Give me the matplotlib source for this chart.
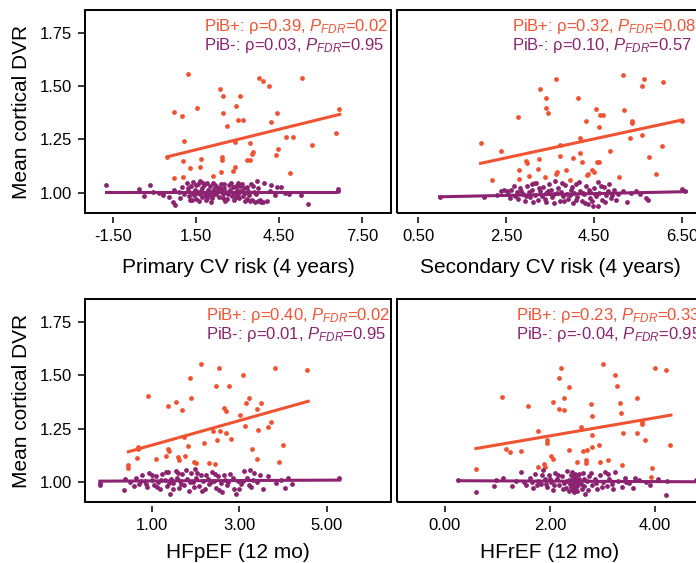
import numpy as np
import matplotlib
matplotlib.use("Agg")
import matplotlib.pyplot as plt
from matplotlib.patches import Rectangle

plt.rcParams["font.family"] = ["Liberation Sans", "DejaVu Sans"]
plt.rcParams["mathtext.fontset"] = "custom"
plt.rcParams["mathtext.rm"] = "Liberation Sans"
plt.rcParams["mathtext.it"] = "Liberation Sans:italic"

ORANGE = "#EF5332"
PURPLE = "#8C2371"

# ---- data: (risk score, mean cortical DVR) ----
# Panel A: primary CV risk
primary_pos = [(1.21, 1.557), (0.69, 1.378), (0.99, 1.358), (1.54, 1.400), (1.07, 1.243),
               (0.46, 1.166), (1.01, 1.147), (1.67, 1.157), (1.27, 1.115), (1.63, 1.122),
               (0.69, 1.069), (1.03, 1.075), (2.11, 1.080), (2.36, 1.488), (2.48, 1.452),
               (2.45, 1.373), (2.60, 1.314), (2.42, 1.166), (2.42, 1.154), (2.38, 1.099),
               (2.90, 1.119), (2.84, 1.102), (2.93, 1.405), (3.08, 1.452), (3.02, 1.342),
               (3.20, 1.342), (2.90, 1.240), (3.46, 1.232), (3.56, 1.193), (3.50, 1.180),
               (3.32, 1.154), (3.44, 1.154), (3.78, 1.538), (3.90, 1.523), (4.14, 1.502),
               (4.43, 1.373), (4.22, 1.330), (4.46, 1.204), (4.40, 1.176), (4.74, 1.260),
               (4.98, 1.260), (4.89, 1.094), (5.34, 1.538), (5.69, 1.224), (6.55, 1.279),
               (6.66, 1.392)]
primary_neg = [(-1.77, 1.036), (-0.57, 1.016), (-0.37, 0.984), (-0.18, 1.036), (-0.05, 1.003),
               (0.15, 0.997), (0.30, 0.990), (0.50, 0.982), (0.65, 0.958), (0.75, 0.942),
               (0.70, 1.013), (0.88, 1.005), (1.00, 1.028), (0.92, 0.975), (1.05, 0.992),
               (1.15, 1.045), (1.20, 1.010), (1.25, 0.985), (1.30, 1.030), (1.35, 0.998),
               (1.40, 1.052), (1.45, 1.015), (1.50, 0.970), (1.55, 1.040), (1.58, 1.005),
               (1.62, 0.992), (1.65, 1.055), (1.70, 1.020), (1.72, 0.980), (1.78, 1.035),
               (1.80, 1.000), (1.85, 0.965), (1.88, 1.048), (1.92, 1.012), (1.95, 0.988),
               (2.00, 1.030), (2.02, 1.003), (2.08, 0.975), (2.10, 1.045), (2.15, 1.018),
               (2.20, 0.995), (2.25, 1.028), (2.28, 1.008), (2.32, 0.982), (2.38, 1.040),
               (2.42, 1.010), (2.48, 0.992), (2.52, 1.022), (2.58, 1.002), (2.62, 0.970),
               (2.68, 1.035), (2.72, 1.012), (2.78, 0.985), (2.82, 1.025), (2.88, 1.000),
               (2.92, 0.978), (2.98, 1.015), (3.02, 0.995), (3.08, 1.030), (3.12, 1.008),
               (3.18, 0.985), (3.22, 1.020), (3.28, 0.998), (3.32, 0.972), (3.38, 1.010),
               (3.42, 0.990), (3.48, 1.042), (3.52, 0.965), (3.58, 1.005), (3.62, 0.958),
               (1.60, 0.960), (2.05, 0.958), (2.55, 0.962), (1.35, 0.965), (3.00, 1.048),
               (3.68, 1.055), (3.75, 0.960), (3.85, 0.958), (3.95, 1.044), (4.05, 0.963),
               (4.15, 1.010), (4.22, 1.035), (4.35, 0.990), (4.42, 1.029), (4.58, 1.028),
               (4.70, 0.998), (4.85, 0.993), (5.30, 0.988), (5.55, 0.948), (6.62, 1.018),
               (6.64, 1.006),
               (1.22, 1.022), (1.28, 0.968), (1.42, 0.990), (1.48, 1.035), (1.52, 1.000),
               (1.68, 1.008), (1.75, 1.045), (1.82, 0.990), (1.90, 0.975), (1.98, 1.010),
               (2.12, 0.990), (2.18, 1.035), (2.22, 1.005), (2.35, 1.020), (2.45, 0.975),
               (2.50, 1.040), (2.65, 0.995), (2.75, 1.045), (2.85, 0.968), (2.95, 1.030),
               (3.05, 0.975), (3.15, 1.040), (3.25, 0.960), (3.35, 1.025), (3.45, 0.960),
               (3.55, 1.030), (3.65, 0.995), (3.72, 1.020), (3.80, 0.965), (3.90, 0.958)]
primary_fit_pos = [(0.46, 1.169), (6.69, 1.368)]
primary_fit_neg = [(-1.77, 1.003), (6.51, 1.003)]

# Panel B: secondary CV risk
secondary_pos = [(5.15, 1.552), (3.63, 1.534), (5.64, 1.534), (6.07, 1.521), (5.59, 1.499),
                 (3.27, 1.486), (3.42, 1.446), (4.14, 1.447), (3.40, 1.399), (3.46, 1.373),
                 (4.55, 1.395), (5.19, 1.389), (4.64, 1.367), (4.70, 1.367), (2.78, 1.355),
                 (4.32, 1.336), (5.36, 1.339), (5.36, 1.326), (4.61, 1.308), (6.51, 1.339),
                 (5.59, 1.271), (5.31, 1.256), (4.18, 1.259), (1.92, 1.235), (3.73, 1.224),
                 (2.38, 1.198), (6.04, 1.220), (4.87, 1.198), (4.18, 1.185), (3.73, 1.174),
                 (3.25, 1.157), (2.95, 1.149), (2.97, 1.138), (4.02, 1.165), (4.56, 1.146),
                 (4.62, 1.146), (4.22, 1.143), (5.74, 1.169), (2.79, 1.107), (3.03, 1.078),
                 (3.23, 1.110), (3.65, 1.099), (3.64, 1.088), (3.86, 1.107), (4.45, 1.107),
                 (4.49, 1.099), (4.33, 1.083), (4.36, 1.090), (5.08, 1.072), (5.91, 1.089),
                 (2.17, 1.060), (3.13, 1.047), (3.95, 1.060), (2.79, 1.063), (3.39, 1.072)]
secondary_neg = [(0.99, 0.978), (2.00, 0.981), (2.30, 0.990), (2.38, 1.010), (2.45, 1.015),
                 (2.52, 1.008), (2.55, 0.995), (2.62, 1.012), (2.70, 0.985), (2.75, 1.005),
                 (2.78, 0.970), (2.82, 1.020), (2.88, 0.995), (2.92, 0.960), (2.98, 1.030),
                 (3.02, 1.005), (3.05, 0.980), (3.10, 1.015), (3.15, 0.990), (3.18, 1.045),
                 (3.22, 0.965), (3.28, 1.008), (3.32, 0.985), (3.35, 1.025), (3.40, 0.998),
                 (3.42, 0.955), (3.48, 1.040), (3.52, 1.012), (3.55, 0.978), (3.60, 0.995),
                 (3.62, 1.055), (3.68, 1.020), (3.72, 0.962), (3.75, 1.005), (3.80, 0.985),
                 (3.85, 1.035), (3.88, 0.995), (3.92, 0.970), (3.98, 1.015), (4.02, 0.950),
                 (4.05, 1.000), (4.10, 1.042), (4.12, 0.980), (4.18, 1.010), (4.22, 0.962),
                 (4.28, 0.995), (4.32, 1.030), (4.36, 0.945), (4.40, 0.975), (4.42, 1.005),
                 (4.48, 0.938), (4.50, 1.020), (4.55, 0.985), (4.58, 1.050), (4.62, 0.998),
                 (4.68, 0.968), (4.72, 1.025), (4.78, 0.990), (4.82, 1.008), (4.88, 0.975),
                 (4.95, 1.015), (5.05, 0.995), (5.15, 1.010), (5.25, 0.955), (5.35, 0.998),
                 (5.46, 1.009), (5.55, 0.992), (5.69, 0.975), (5.72, 0.965), (6.50, 1.018),
                 (6.56, 1.010),
                 (2.60, 0.975), (2.68, 1.030), (2.85, 1.010), (2.95, 0.985), (3.08, 1.040),
                 (3.12, 0.955), (3.25, 1.020), (3.38, 0.970), (3.45, 1.010), (3.58, 0.950),
                 (3.65, 1.000), (3.78, 1.045), (3.82, 0.960), (3.95, 0.990), (4.00, 1.025),
                 (4.08, 0.965), (4.15, 1.050), (4.25, 1.000), (4.30, 0.950), (4.38, 1.015),
                 (4.45, 0.960), (4.52, 0.995), (4.60, 0.940), (4.65, 1.030), (4.75, 0.955),
                 (4.85, 1.040), (4.92, 0.990), (5.00, 0.965)]
secondary_fit_pos = [(1.92, 1.138), (6.51, 1.342)]
secondary_fit_neg = [(0.99, 0.981), (6.60, 1.005)]

# Panel C: HFpEF
hfpef_pos = [(2.12, 1.555), (2.55, 1.536), (3.83, 1.536), (4.56, 1.523), (1.88, 1.489),
             (2.47, 1.448), (2.78, 1.448), (3.08, 1.500), (0.91, 1.402), (1.91, 1.395),
             (3.23, 1.391), (1.57, 1.373), (1.38, 1.356), (1.69, 1.339), (2.66, 1.347),
             (2.71, 1.331), (3.15, 1.370), (3.51, 1.370), (3.40, 1.344), (3.03, 1.313),
             (3.13, 1.261), (3.44, 1.242), (3.74, 1.281), (3.67, 1.258), (1.75, 1.211),
             (2.41, 1.239), (2.56, 1.239), (2.71, 1.231), (2.81, 1.203), (2.49, 1.195),
             (2.20, 1.180), (1.84, 1.167), (1.38, 1.152), (1.40, 1.145), (0.68, 1.152),
             (0.70, 1.163), (0.66, 1.114), (1.11, 1.105), (1.34, 1.120), (1.61, 1.117),
             (1.63, 1.102), (1.76, 1.120), (2.02, 1.086), (1.98, 1.092), (2.32, 1.086),
             (2.45, 1.083), (0.47, 1.078), (0.47, 1.067), (3.30, 1.152), (3.40, 1.109),
             (4.00, 1.175), (3.91, 1.094)]
hfpef_neg = [(-0.18, 0.995), (-0.17, 0.985), (0.37, 0.960), (0.40, 1.012), (0.50, 1.000),
             (0.60, 0.978), (0.65, 1.020), (0.72, 0.990), (0.78, 1.030), (0.85, 1.005),
             (0.90, 0.975), (0.95, 1.040), (1.00, 1.010), (1.05, 0.985), (1.10, 1.025),
             (1.15, 0.998), (1.20, 0.965), (1.25, 1.035), (1.30, 1.008), (1.35, 0.980),
             (1.38, 1.045), (1.42, 0.942), (1.45, 1.015), (1.50, 0.992), (1.55, 1.050),
             (1.58, 1.020), (1.62, 0.970), (1.65, 1.005), (1.70, 1.035), (1.75, 0.985),
             (1.80, 1.012), (1.85, 0.958), (1.90, 1.040), (1.95, 0.998), (2.00, 1.062),
             (2.02, 1.020), (2.08, 0.978), (2.12, 1.030), (2.18, 1.002), (2.22, 0.965),
             (2.28, 1.015), (2.32, 0.988), (2.38, 1.045), (2.42, 1.005), (2.48, 0.972),
             (2.52, 1.025), (2.58, 0.995), (2.62, 0.950), (2.68, 1.010), (2.72, 0.985),
             (2.80, 1.035), (2.88, 0.968), (2.92, 0.942), (2.98, 1.005), (3.05, 0.990),
             (3.12, 1.050), (3.18, 1.020), (3.25, 1.056), (3.28, 0.975), (3.32, 1.010),
             (3.40, 0.998), (3.48, 1.030), (3.55, 0.965), (3.67, 1.027), (3.85, 0.995),
             (3.95, 1.010), (4.05, 0.969), (4.12, 1.018), (4.20, 0.990), (5.29, 1.016),
             (0.75, 1.005), (0.88, 0.990), (1.02, 1.030), (1.12, 0.975), (1.22, 1.010),
             (1.32, 1.045), (1.40, 0.995), (1.48, 0.965), (1.60, 1.040), (1.68, 0.990),
             (1.78, 1.055), (1.88, 1.000), (1.98, 0.975), (2.05, 1.040), (2.15, 0.955),
             (2.25, 1.030), (2.35, 0.998), (2.45, 1.035), (2.55, 0.960), (2.65, 1.030),
             (2.75, 1.000), (2.85, 1.020), (3.00, 0.965), (3.10, 1.005), (3.22, 0.985),
             (3.35, 1.040)]
hfpef_fit_pos = [(0.47, 1.141), (4.58, 1.378)]
hfpef_fit_neg = [(-0.18, 1.003), (5.30, 1.008)]

# Panel D: HFrEF
hfref_pos = [(3.00, 1.555), (2.21, 1.536), (3.99, 1.536), (4.20, 1.523), (2.18, 1.489),
             (3.24, 1.500), (2.36, 1.445), (3.27, 1.448), (1.08, 1.398), (2.27, 1.395),
             (2.05, 1.375), (1.59, 1.355), (2.77, 1.367), (3.33, 1.370), (3.65, 1.391),
             (2.18, 1.344), (2.27, 1.339), (3.35, 1.325), (2.79, 1.308), (3.75, 1.281),
             (3.75, 1.270), (2.59, 1.258), (1.78, 1.238), (2.79, 1.219), (3.38, 1.230),
             (3.65, 1.231), (3.80, 1.198), (1.94, 1.198), (1.94, 1.184), (1.16, 1.156),
             (1.23, 1.141), (1.44, 1.145), (2.93, 1.175), (2.37, 1.148), (2.62, 1.145),
             (2.70, 1.148), (2.79, 1.164), (4.29, 1.172), (2.02, 1.120), (2.05, 1.109),
             (2.51, 1.094), (2.69, 1.102), (2.69, 1.089), (2.95, 1.094), (3.11, 1.102),
             (1.78, 1.070), (1.89, 1.083), (1.90, 1.070), (0.60, 1.059), (3.37, 1.078),
             (3.94, 1.067), (3.92, 1.023)]
hfref_neg = [(0.25, 1.008), (0.60, 0.953), (0.93, 0.978), (0.97, 1.008), (1.10, 1.020),
             (1.27, 0.980), (1.35, 1.005), (1.44, 1.047), (1.50, 1.000), (1.55, 0.985),
             (1.62, 1.020), (1.68, 0.970), (1.72, 1.035), (1.78, 1.005), (1.82, 0.990),
             (1.87, 1.055), (1.90, 1.015), (1.95, 0.975), (1.98, 1.030), (2.02, 1.000),
             (2.06, 0.960), (2.10, 1.040), (2.14, 1.012), (2.18, 0.985), (2.22, 1.025),
             (2.26, 0.995), (2.30, 0.970), (2.33, 1.050), (2.36, 1.010), (2.38, 0.990),
             (2.40, 0.975), (2.42, 1.000), (2.43, 0.960), (2.44, 1.020), (2.45, 0.985),
             (2.46, 0.995), (2.47, 1.035), (2.48, 0.970), (2.50, 1.008), (2.52, 0.955),
             (2.55, 1.015), (2.58, 0.990), (2.62, 1.040), (2.65, 0.978), (2.66, 0.945),
             (2.70, 1.005), (2.75, 1.025), (2.80, 0.985), (2.85, 1.012), (2.90, 0.965),
             (2.95, 1.030), (3.00, 0.998), (3.05, 1.047), (3.08, 0.980), (3.12, 1.015),
             (3.18, 0.990), (3.24, 1.047), (3.30, 1.005), (3.36, 0.975), (3.42, 1.020),
             (3.50, 0.995), (3.58, 0.970), (3.70, 1.010), (3.82, 1.000), (4.21, 0.937),
             (4.22, 1.003), (4.78, 1.008),
             (1.65, 1.000), (1.75, 0.985), (1.85, 1.030), (1.92, 0.990), (2.00, 1.015),
             (2.08, 0.985), (2.16, 1.030), (2.24, 0.965), (2.32, 1.005), (2.37, 0.955),
             (2.39, 1.030), (2.41, 0.985), (2.42, 1.045), (2.43, 1.010), (2.44, 0.968),
             (2.45, 1.002), (2.46, 0.950), (2.47, 1.015), (2.48, 0.990), (2.49, 1.025),
             (2.51, 0.978), (2.53, 1.000), (2.56, 1.038), (2.60, 0.965), (2.64, 1.012),
             (2.72, 0.960), (2.78, 1.040), (2.88, 0.995), (2.98, 0.975), (3.10, 1.035),
             (3.20, 0.968), (3.45, 1.000), (3.62, 1.020), (3.90, 0.985), (4.05, 1.012)]
hfref_fit_pos = [(0.59, 1.156), (4.30, 1.313)]
hfref_fit_neg = [(0.25, 1.005), (4.85, 1.000)]

x_labels = ["Primary CV risk (4 years)", "Secondary CV risk (4 years)",
            "HFpEF (12 mo)", "HFrEF (12 mo)"]
x_ticks = [[-1.5, 1.5, 4.5, 7.5], [0.5, 2.5, 4.5, 6.5], [1.0, 3.0, 5.0], [0.0, 2.0, 4.0]]
x_limits = [(-2.52, 8.54), (0.02, 6.98), (-0.52, 6.47), (-0.91, 4.91)]
y_ticks = [1.00, 1.25, 1.50, 1.75]
stats_pos = ["0.39", "0.32", "0.40", "0.23"]
stats_pos_p = ["0.02", "0.08", "0.02", "0.33"]
stats_neg = ["0.03", "0.10", "0.01", "-0.04"]
stats_neg_p = ["0.95", "0.57", "0.95", "0.95"]


def draw_panel(ax, pos, neg, fit_pos, fit_neg, i):
    pos = np.array(pos)
    neg = np.array(neg)
    fit_pos = np.array(fit_pos)
    fit_neg = np.array(fit_neg)

    ax.scatter(pos[:, 0], pos[:, 1], s=12, color=ORANGE, linewidths=0, zorder=3)
    ax.plot(fit_pos[:, 0], fit_pos[:, 1], color=ORANGE, lw=2.2, zorder=4)
    ax.scatter(neg[:, 0], neg[:, 1], s=12, color=PURPLE, linewidths=0, zorder=3)
    ax.plot(fit_neg[:, 0], fit_neg[:, 1], color=PURPLE, lw=2.2, zorder=4)

    ax.set_xlim(*x_limits[i])
    ax.set_ylim(0.905, 1.858)
    ax.set_xticks(x_ticks[i])
    ax.set_xticklabels([f"{t:.2f}" for t in x_ticks[i]])
    ax.set_yticks(y_ticks)

    # Igor-style box: full frame, ticks detached a little below/left of it
    for side in ax.spines.values():
        side.set_visible(False)
    ax.spines["bottom"].set_position(("outward", 3))
    ax.spines["left"].set_position(("outward", 1))
    ax.add_patch(Rectangle((0, 0), 1, 1, transform=ax.transAxes, fill=False,
                           lw=1.4, edgecolor="black", clip_on=False, zorder=5))
    ax.tick_params(direction="out", length=4.5, width=1.1, labelsize=12, pad=4)

    if i % 2 == 0:
        ax.set_yticklabels([f"{t:.2f}" for t in y_ticks])
        ax.set_ylabel("Mean cortical DVR", fontsize=15, labelpad=6)
    else:
        ax.tick_params(axis="y", left=False, labelleft=False)
    ax.set_xlabel(x_labels[i], fontsize=15, labelpad=[10, 10, 7, 7][i])

    tx = [0.389, 0.376, 0.395, 0.389][i]
    ax.text(tx, 0.897, f"PiB+: ρ={stats_pos[i]}, $P_{{FDR}}$={stats_pos_p[i]}",
            transform=ax.transAxes, color=ORANGE, fontsize=12, va="baseline", ha="left")
    ax.text(tx, 0.803, f"PiB-: ρ={stats_neg[i]}, $P_{{FDR}}$={stats_neg_p[i]}",
            transform=ax.transAxes, color=PURPLE, fontsize=12, va="baseline", ha="left")


def build_figure():
    fig = plt.figure(figsize=(6.96, 5.63), dpi=100)
    rects = [[0.1221, 0.6217, 0.4397, 0.3606], [0.5704, 0.6217, 0.4397, 0.3606],
             [0.1221, 0.1083, 0.4397, 0.3606], [0.5704, 0.1083, 0.4397, 0.3606]]
    panels = [
        (primary_pos, primary_neg, primary_fit_pos, primary_fit_neg),
        (secondary_pos, secondary_neg, secondary_fit_pos, secondary_fit_neg),
        (hfpef_pos, hfpef_neg, hfpef_fit_pos, hfpef_fit_neg),
        (hfref_pos, hfref_neg, hfref_fit_pos, hfref_fit_neg),
    ]
    for i, (rect, data) in enumerate(zip(rects, panels)):
        ax = fig.add_axes(rect)
        draw_panel(ax, *data, i)

    fig.savefig("out.png", dpi=100)
    plt.close(fig)


if __name__ == "__main__":
    build_figure()
